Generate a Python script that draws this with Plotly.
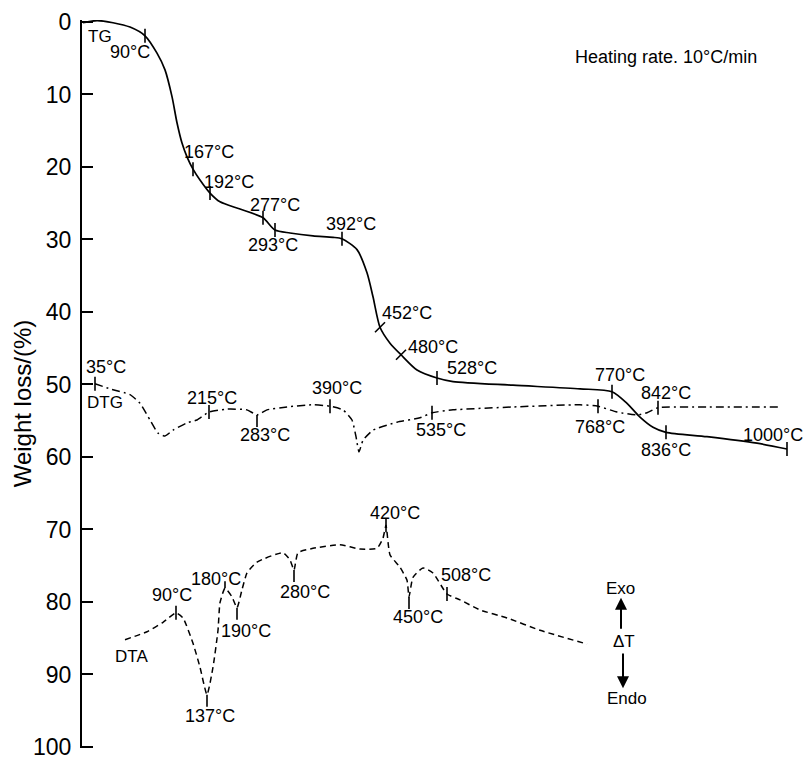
import plotly.graph_objects as go

# ---------------- data (x: horizontal position along the trace, a.u.; y: weight loss %) -------------
tg_x = [83, 97, 113, 130, 145, 157, 165, 172, 177, 182, 187, 193, 200, 210, 220, 240, 263, 275, 290,
        313, 333, 342, 357, 367, 373, 380, 390, 401, 417, 437, 453, 513, 580, 612, 627, 640, 653, 666,
        707, 757, 787]
tg_y = [0.1, -0.2, 0.1, 0.7, 1.9, 4.3, 6.6, 10.3, 13.9, 16.7, 18.6, 20.3, 21.8, 23.6, 24.8, 25.8, 27.0,
        28.7, 29.1, 29.5, 29.7, 29.9, 31.4, 34.6, 37.9, 42.1, 44.3, 45.9, 48.0, 49.1, 49.6, 50.1, 50.6,
        51.0, 52.6, 54.5, 55.9, 56.6, 57.2, 58.1, 58.9]

dtg_x = [95, 110, 130, 140, 150, 158, 165, 173, 187, 197, 209, 227, 247, 257, 267, 287, 313, 330, 343,
         352, 356, 359, 363, 373, 397, 420, 432, 453, 513, 580, 598, 617, 637, 647, 658, 707, 780]
dtg_y = [49.9, 50.6, 51.4, 52.6, 54.9, 56.7, 57.1, 56.3, 55.3, 54.9, 53.8, 53.4, 53.5, 54.2, 53.5, 53.1,
         52.8, 53.0, 53.5, 54.9, 57.2, 59.3, 57.7, 56.3, 55.2, 54.6, 53.9, 53.5, 53.1, 52.8, 53.0, 53.8,
         54.2, 53.9, 53.2, 53.1, 53.1]

dta_x = [125, 147, 163, 176, 183, 193, 200, 207, 213, 218, 220, 225, 232, 237, 242, 247, 257, 283, 290,
         294, 298, 313, 340, 360, 377, 383, 386, 390, 400, 407, 409, 413, 423, 433, 447, 460, 480, 507,
         540, 587]
dta_y = [85.2, 84.1, 82.8, 81.5, 82.2, 85.7, 89.0, 92.8, 89.0, 83.9, 80.1, 78.1, 79.3, 80.8, 78.3, 76.0,
         74.5, 73.2, 74.2, 75.6, 73.2, 72.6, 72.1, 72.7, 72.6, 71.2, 69.4, 73.5, 75.2, 77.0, 79.3, 76.6,
         75.3, 76.0, 78.9, 79.7, 81.1, 82.2, 83.9, 85.8]

# marked temperatures on each curve
tg_mark_x = [145, 193, 210, 263, 275, 342, 380, 401, 437, 612, 666, 787]
tg_mark_y = [1.9, 20.3, 23.6, 27.0, 28.7, 29.9, 42.1, 45.9, 49.1, 51.0, 56.6, 58.9]
tg_mark_t = ["90°C", "167°C", "192°C", "277°C", "293°C", "392°C", "452°C", "480°C", "528°C",
             "770°C", "836°C", "1000°C"]

dtg_mark_x = [95, 209, 257, 330, 432, 598, 658]
dtg_mark_y = [49.9, 53.8, 54.2, 53.0, 53.9, 53.0, 53.2]
dtg_mark_t = ["35°C", "215°C", "283°C", "390°C", "535°C", "768°C", "842°C"]

dta_mark_x = [176, 207, 225, 237, 294, 386, 409, 447]
dta_mark_y = [81.5, 92.8, 78.1, 80.8, 75.6, 69.4, 79.3, 78.9]
dta_mark_t = ["90°C", "137°C", "180°C", "190°C", "280°C", "420°C", "450°C", "508°C"]

y_ticks = [0, 10, 20, 30, 40, 50, 60, 70, 80, 90, 100]

# ---------------- styles / layout -----------------------------------------------------------------
W, H = 805, 759
ML, MR, MT, MB = 82, 0, 20, 11
YR = [100.14, -0.275]
XR = [82, 805]
PXY = (H - MT - MB) / (YR[0] - YR[1])  # px per y unit
FONT = "Liberation Sans, Arial, Helvetica, sans-serif"
LAB = 18

# tick kinds and label offsets (px) for each marked point
tg_kind = ["c", "c", "c", "c", "c", "c", "s", "s", "c", "c", "c", "c"]
tg_off = [(-15, 16), (16, -17), (19, -11), (12, -13), (-2, 15), (9, -15), (27, -14), (32, -8),
          (35, -10), (8, -17), (0, 18), (-14, -14)]
dtg_kind = ["c", "c", "d", "c", "c", "c", "c"]
dtg_off = [(11, -17), (3, -14), (8, 20), (7, -18), (9, 17), (2, 21), (8, -15)]
dta_kind = ["c", "d", "u", "d", "d", "c", "d", "c"]
dta_off = [(-4, -18), (3, 21), (-9, -9), (9, 23), (11, 22), (9, -12), (9, 20), (19, -19)]


def tick_segments(xs, ys, kinds):
    sx, sy = [], []
    for x, y, k in zip(xs, ys, kinds):
        if k == "c":
            pts = [(x, y - 7 / PXY), (x, y + 7 / PXY)]
        elif k == "s":
            pts = [(x - 5, y + 5 / PXY), (x + 5, y - 5 / PXY)]
        elif k == "d":
            pts = [(x, y), (x, y + 12 / PXY)]
        else:
            pts = [(x, y), (x, y - 7 / PXY)]
        sx += [pts[0][0], pts[1][0], None]
        sy += [pts[0][1], pts[1][1], None]
    return sx, sy


fig = go.Figure()
fig.add_trace(go.Scatter(x=tg_x, y=tg_y, mode="lines", name="TG",
                         line=dict(color="black", width=1.7, shape="spline", smoothing=0.7),
                         cliponaxis=False, showlegend=False))
fig.add_trace(go.Scatter(x=dtg_x, y=dtg_y, mode="lines", name="DTG",
                         line=dict(color="black", width=1.5, shape="spline", smoothing=0.5,
                                   dash="8px,4px,2px,4px"),
                         cliponaxis=False, showlegend=False))
fig.add_trace(go.Scatter(x=dta_x, y=dta_y, mode="lines", name="DTA",
                         line=dict(color="black", width=1.5, shape="spline", smoothing=0.5,
                                   dash="6px,4px"),
                         cliponaxis=False, showlegend=False))

for xs, ys, ks in [(tg_mark_x, tg_mark_y, tg_kind), (dtg_mark_x, dtg_mark_y, dtg_kind),
                   (dta_mark_x, dta_mark_y, dta_kind)]:
    sx, sy = tick_segments(xs, ys, ks)
    fig.add_trace(go.Scatter(x=sx, y=sy, mode="lines", line=dict(color="black", width=1.6),
                             cliponaxis=False, showlegend=False, hoverinfo="skip"))

ann = []
for xs, ys, ts, offs in [(tg_mark_x, tg_mark_y, tg_mark_t, tg_off),
                         (dtg_mark_x, dtg_mark_y, dtg_mark_t, dtg_off),
                         (dta_mark_x, dta_mark_y, dta_mark_t, dta_off)]:
    for x, y, t, (dx, dy) in zip(xs, ys, ts, offs):
        ann.append(dict(x=x, y=y, text=t, showarrow=False, xshift=dx, yshift=-dy,
                        font=dict(size=LAB, color="black", family=FONT)))

# series names and other text
for t, x, y, xa, fs in [("TG", 86, 1.95, "left", 17), ("DTG", 85, 52.55, "left", 17),
                        ("DTA", 113, 87.45, "left", 17),
                        ("Heating rate. 10°C/min", 666, 4.8, "center", 18),
                        ("Exo", 620, 78.1, "center", 17), ("ΔT", 624, 85.5, "center", 17),
                        ("Endo", 627, 93.3, "center", 17)]:
    ann.append(dict(x=x, y=y, text=t, showarrow=False, xanchor=xa,
                    font=dict(size=fs, color="black", family=FONT)))

# Exo / Endo arrows
ann.append(dict(x=621, y=79.4, ax=621, ay=83.9, axref="x", ayref="y", text="", showarrow=True,
                arrowhead=2, arrowsize=1.2, arrowwidth=2, arrowcolor="black"))
ann.append(dict(x=623, y=91.9, ax=623, ay=86.9, axref="x", ayref="y", text="", showarrow=True,
                arrowhead=2, arrowsize=1.2, arrowwidth=2, arrowcolor="black"))

# y-axis title
ann.append(dict(xref="paper", x=(22 - ML) / (W - ML - MR), xanchor="center", y=52.6,
                text="Weight loss/(%)", textangle=-90, showarrow=False,
                font=dict(size=24, color="black", family=FONT)))

fig.update_layout(
    width=W, height=H, margin=dict(l=ML, r=MR, t=MT, b=MB),
    paper_bgcolor="white", plot_bgcolor="white",
    xaxis=dict(range=XR, visible=False),
    yaxis=dict(range=YR, tickvals=y_ticks, ticks="inside", ticklen=11, tickwidth=2,
               tickcolor="black", showline=True, linewidth=2, linecolor="black",
               showgrid=False, zeroline=False, ticklabelstandoff=4, automargin=False,
               ticklabeloverflow="allow",
               tickfont=dict(size=23, color="black", family=FONT)),
    annotations=ann,
)
fig.write_html("out.html", config={"displayModeBar": False},
               post_script="document.body.style.margin='0';document.body.style.overflow='hidden';")
